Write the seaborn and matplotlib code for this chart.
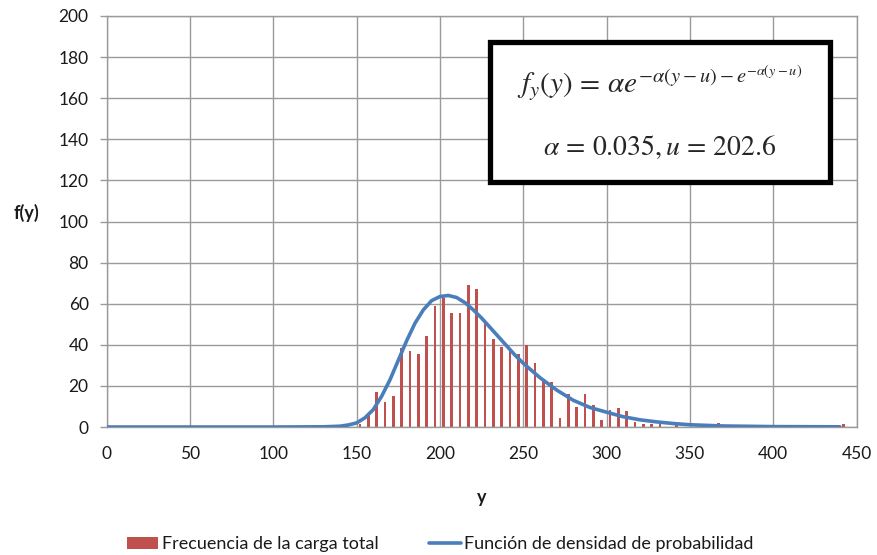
import numpy as np
import pandas as pd
import matplotlib
matplotlib.use("Agg")
import matplotlib.pyplot as plt
import seaborn as sns
from matplotlib.patches import Patch, Rectangle
from matplotlib.lines import Line2D

# ---------------- data ----------------
bin_centers = [152, 157, 162, 167, 172, 177, 182, 187, 192, 197, 202, 207, 212,
               217, 222, 227, 232, 237, 242, 247, 252, 257, 262, 267, 272, 277,
               282, 287, 292, 297, 302, 307, 312, 317, 322, 327, 332, 342, 367, 442]
frequency = [1.5, 6.7, 17.0, 12.3, 15.3, 38.3, 37.0, 35.4, 44.4, 58.9, 62.6, 55.3, 55.3,
             69.0, 67.2, 52.0, 43.0, 38.8, 38.0, 35.4, 40.0, 31.0, 23.2, 21.9, 4.2, 15.9,
             9.9, 15.9, 10.9, 3.2, 8.1, 9.1, 8.0, 2.6, 1.5, 1.5, 1.5, 1.5, 2.0, 1.5]

curve_x = [0, 100, 130, 140, 145, 150, 155, 160, 165, 170, 175, 180, 185, 190, 195,
           200, 205, 210, 215, 220, 225, 230, 235, 240, 245, 250, 260, 270, 280, 290,
           300, 310, 320, 330, 340, 350, 370, 400, 440]
curve_f = [0, 0, 0.1, 0.4, 1.0, 2.0, 4.5, 8.5, 15, 23, 32.5, 42, 50.5, 57, 61.5,
           63.5, 64, 63, 60.5, 57, 53, 48.5, 44, 39.5, 35, 31, 24, 18, 13, 9.5,
           7.2, 5, 3.5, 2.5, 1.7, 1.1, 0.5, 0.2, 0.1]

x_ticks = [0, 50, 100, 150, 200, 250, 300, 350, 400, 450]
y_ticks = [0, 20, 40, 60, 80, 100, 120, 140, 160, 180, 200]

bar_label = "Frecuencia de la carga total"
line_label = "Función de densidad de probabilidad"
formula_1 = r"$f_y(y)\,=\,\alpha e^{-\alpha(y-u)-e^{-\alpha(y-u)}}$"
formula_2 = r"$\alpha\,=\,0.035, u\,=\,202.6$"

# ---------------- style ----------------
sns.set_style("white")
plt.rcParams["font.family"] = ["Lato", "DejaVu Sans"]
plt.rcParams["mathtext.fontset"] = "stix"

BAR_C = "#C0504D"
LINE_C = "#4A7EBB"
GRID_C = "#9A9A9A"
TXT_C = "#1A1A1A"

fig = plt.figure(figsize=(8.77, 5.55), dpi=100)
ax = fig.add_axes([0.1217, 0.2306, 0.855, 0.7406])

bars = pd.DataFrame({"y": bin_centers, "f": frequency})
curve = pd.DataFrame({"y": curve_x, "f": curve_f})

sns.barplot(data=bars, x="y", y="f", native_scale=True, orient="x",
            color=BAR_C, saturation=1, width=0.33, errorbar=None, ax=ax, zorder=2)
for p in ax.patches:
    p.set_edgecolor("none")
sns.lineplot(data=curve, x="y", y="f", color=LINE_C, lw=2.6, ax=ax, zorder=3)

ax.set_xlim(0, 450)
ax.set_ylim(0, 200)
ax.set_xticks(x_ticks)
ax.set_yticks(y_ticks)
ax.set_xticklabels([str(v) for v in x_ticks])
ax.set_yticklabels([str(v) for v in y_ticks])

ax.grid(True, color=GRID_C, lw=1.0, zorder=0)
ax.set_axisbelow(True)
for s in ax.spines.values():
    s.set_color(GRID_C)
    s.set_linewidth(1.0)

ax.tick_params(axis="x", length=0, pad=14, labelsize=12.5, colors=TXT_C)
ax.tick_params(axis="y", length=5, width=1, color=GRID_C, pad=8, labelsize=12.5,
               left=True, labelcolor=TXT_C)

ax.set_xlabel("y", fontsize=13, fontweight="bold", color=TXT_C)
ax.set_ylabel("f(y)", fontsize=13, fontweight="bold", rotation=0, color=TXT_C)
ax.xaxis.set_label_coords(0.5004, -0.152)
ax.yaxis.set_label_coords(-0.1076, 0.499)

# formula box
ax.add_patch(Rectangle((0.511, 0.596), 0.453, 0.341, transform=ax.transAxes,
                       facecolor="white", edgecolor="black", lw=3.8, zorder=5))
ax.text(0.7375, 0.835, formula_1, transform=ax.transAxes, ha="center", va="center",
        fontsize=21, zorder=6)
ax.text(0.7375, 0.680, formula_2, transform=ax.transAxes, ha="center", va="center",
        fontsize=20, zorder=6)

handles = [Patch(facecolor=BAR_C, edgecolor="none"),
           Line2D([0], [0], color=LINE_C, lw=2.6)]
fig.legend(handles, [bar_label, line_label], loc="center", bbox_to_anchor=(0.502, 0.019),
           ncol=2, frameon=False, fontsize=13, handlelength=1.75, handletextpad=0.2,
           columnspacing=2.8, labelcolor=TXT_C)

fig.savefig("out.png", dpi=100)
